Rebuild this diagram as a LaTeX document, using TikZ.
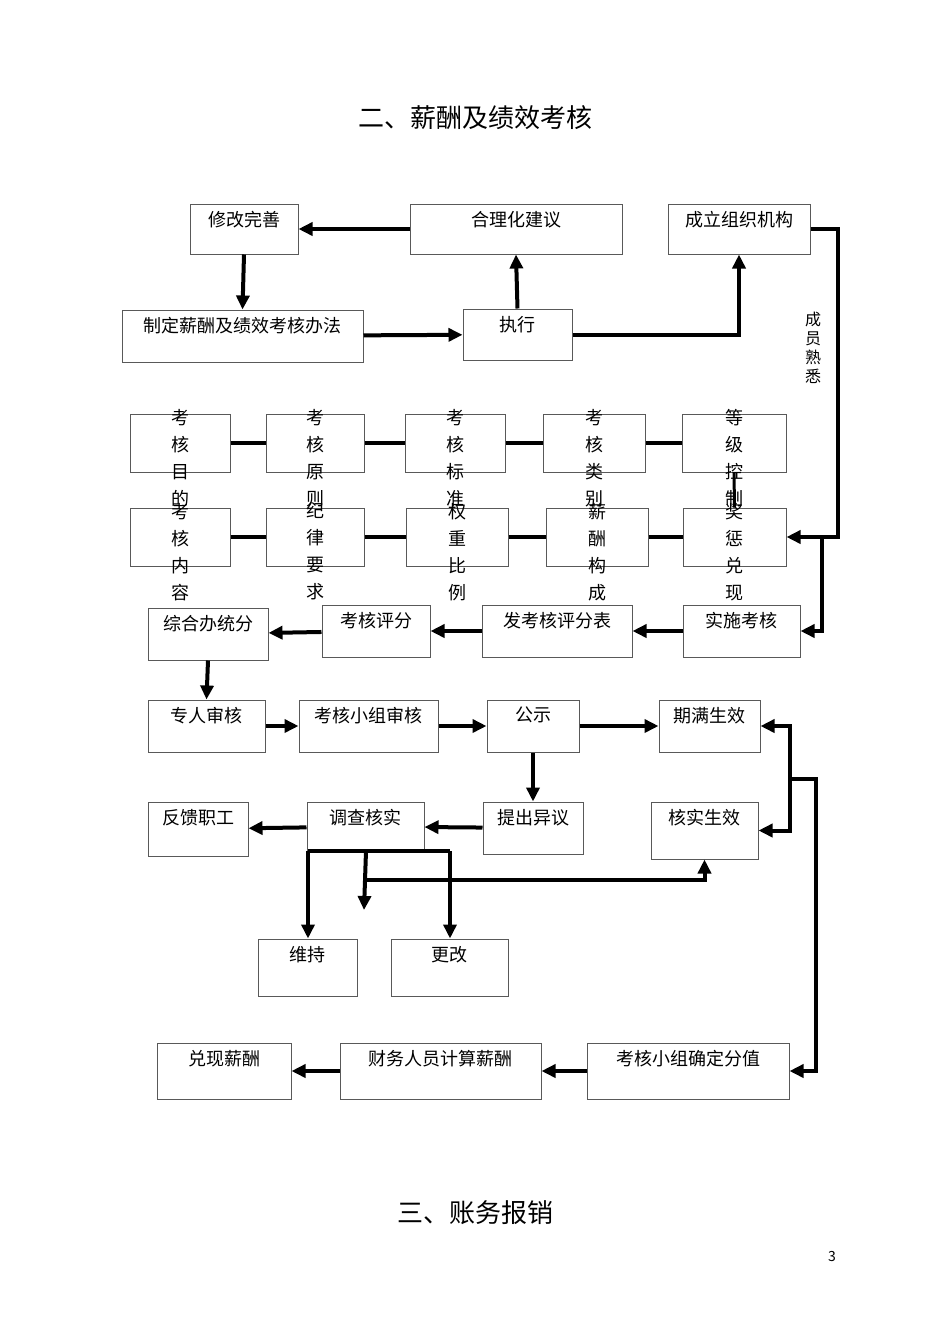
\documentclass[tikz,border=0pt]{standalone}
\usepackage{fontspec}
\setmainfont{Noto Sans CJK SC}
\usetikzlibrary{arrows.meta,calc}

\tikzset{
	box/.style={draw=black!65,line width=0.5pt,rectangle,inner sep=0pt},
	txt/.style={font=\fontsize{9pt}{11pt}\selectfont,inner sep=0pt,anchor=north},
	vtxt/.style={font=\fontsize{9pt}{13.5pt}\selectfont,inner sep=0pt,anchor=north,align=center,text width=1em},
	flow/.style={line width=2pt,-{Triangle[length=7pt,width=6.5pt]}},
	link/.style={line width=2pt}
}
% box from corner (x1,y1) to (x2,y2), text near its top
\newcommand{\flowbox}[6]{%
	\node[box,minimum width={(#4-#2)*0.5pt},minimum height={(#5-#3)*0.5pt}] (#1) at ({(#2+#4)/2},{(#3+#5)/2}) {};
	\node[txt] at ($(#1.north)+(0,7)$) {#6};
}

\begin{document}
\begin{tikzpicture}[x=0.5pt,y=-0.5pt]
	\useasboundingbox (0,0) rectangle (950,1344);
	\node[font=\fontsize{13pt}{15pt}\selectfont] (title) at (475,118) {二、薪酬及绩效考核};
	\node[font=\fontsize{13pt}{15pt}\selectfont] (title2) at (475,1213) {三、账务报销};
	\node[font=\fontsize{7pt}{8pt}\selectfont] (page) at (832,1256) {3};
	% top loop
	\flowbox{xg}{190}{204}{298}{254}{修改完善}
	\flowbox{hl}{410}{204}{622}{254}{合理化建议}
	\flowbox{cl}{668}{204}{810}{254}{成立组织机构}
	\flowbox{zd}{122}{310}{363}{362}{制定薪酬及绩效考核办法}
	\flowbox{zx}{463}{309}{572}{360}{执行}
	\node[vtxt,font=\fontsize{8pt}{9.5pt}\selectfont] (cy) at (813,312) {成\\员\\熟\\悉};
	% two rows of items
	\foreach \n/\xa/\xb/\t in {a1/130/230/{考\\核\\目\\的},a2/266/364/{考\\核\\原\\则},a3/405/505/{考\\核\\标\\准},a4/543/645/{考\\核\\类\\别},a5/682/786/{等\\级\\控\\制}}{
		\node[box,minimum width={(\xb-\xa)*0.5pt},minimum height=29pt] (\n) at ({(\xa+\xb)/2},443) {};
		\node[vtxt] at ($(\n.north)+(0,-5)$) {\t};
	}
	\foreach \n/\xa/\xb/\t in {b1/130/230/{考\\核\\内\\容},b2/266/364/{纪\\律\\要\\求},b3/406/508/{权\\重\\比\\例},b4/546/648/{薪\\酬\\构\\成},b5/683/786/{奖\\惩\\兑\\现}}{
		\node[box,minimum width={(\xb-\xa)*0.5pt},minimum height=29pt] (\n) at ({(\xa+\xb)/2},537) {};
		\node[vtxt] at ($(\n.north)+(0,-5)$) {\t};
	}
	\foreach \i/\j in {1/2,2/3,3/4,4/5}{
		\draw[link] (a\i) -- (a\j);
		\draw[link] (b\i) -- (b\j);
	}
	\draw[line width=1.5pt] (a5.south) -- (b5.north);
	% scoring
	\flowbox{zh}{148}{608}{268}{660}{综合办统分}
	\flowbox{pf}{322}{605}{430}{657}{考核评分}
	\flowbox{fb}{482}{605}{632}{657}{发考核评分表}
	\flowbox{ss}{683}{605}{800}{657}{实施考核}
	% review
	\flowbox{zr}{148}{700}{265}{752}{专人审核}
	\flowbox{xz}{299}{700}{438}{752}{考核小组审核}
	\flowbox{gs}{487}{700}{579}{752}{公示}
	\flowbox{qm}{659}{700}{760}{752}{期满生效}
	\flowbox{fk}{148}{802}{248}{856}{反馈职工}
	\flowbox{dc}{307}{802}{424}{851}{调查核实}
	\flowbox{tc}{483}{802}{583}{854}{提出异议}
	\flowbox{hs}{651}{802}{758}{859}{核实生效}
	\flowbox{wc}{258}{939}{357}{996}{维持}
	\flowbox{gg}{391}{939}{508}{996}{更改}
	% pay
	\flowbox{dx}{157}{1043}{291}{1099}{兑现薪酬}
	\flowbox{cw}{340}{1043}{541}{1099}{财务人员计算薪酬}
	\flowbox{qd}{587}{1043}{789}{1099}{考核小组确定分值}
	% connectors
	\draw[flow] (hl) -- (xg);
	\draw[flow] (xg.south) -- (zd.north);
	\draw[flow] (zd) -- (zx);
	\draw[flow] (zx.north) -- (hl.south);
	\draw[flow] (zx.east) -| (cl.south);
	\draw[flow] (cl.east) -- (838,229) |- (b5.east);
	\coordinate (br) at (822,537);
	\draw[flow] (br) |- (ss.east);
	\draw[flow] (ss) -- (fb);
	\draw[flow] (fb) -- (pf);
	\draw[flow] (pf) -- (zh);
	\draw[flow] (zh.south) -- (zr.north);
	\draw[flow] (zr) -- (xz);
	\draw[flow] (xz) -- (gs);
	\draw[flow] (gs) -- (qm);
	\draw[flow] (gs.south) -- (tc.north);
	\draw[flow] (tc) -- (dc);
	\draw[flow] (dc) -- (fk);
	\coordinate (jn) at (790,779);
	\draw[flow] (jn) |- (qm.east);
	\draw[flow] (jn) |- (hs.east);
	\draw[flow] (jn) -- (816,779) |- (qd.east);
	\draw[flow] (qd) -- (cw);
	\draw[flow] (cw) -- (dx);
	\coordinate (lt) at (308,851);
	\coordinate (rt) at (450,851);
	\coordinate (md) at (366,851);
	\coordinate (mx) at (366,880);
	\coordinate (me) at (364,910);
	\draw[link] (lt) -- (rt);
	\draw[flow] (lt) -- (lt |- wc.north);
	\draw[flow] (rt) -- (rt |- gg.north);
	\draw[flow] (md) -- (me);
	\draw[flow] (mx) -| (hs.south);
\end{tikzpicture}
\end{document}
